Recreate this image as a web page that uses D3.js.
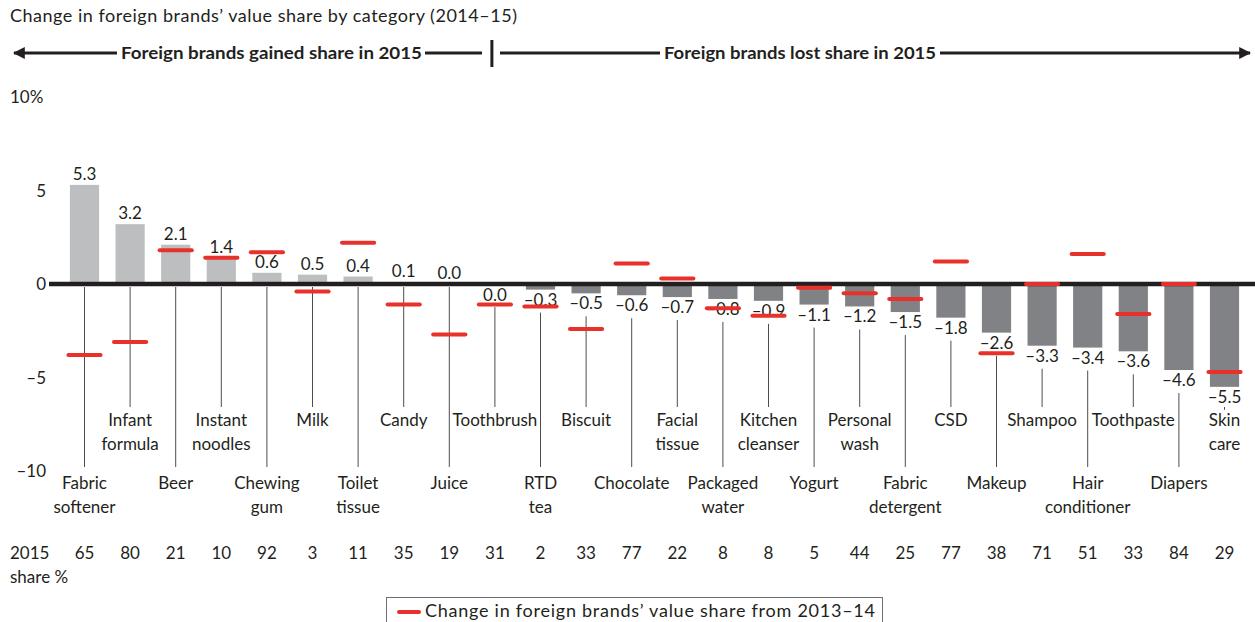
<!DOCTYPE html>
<html>
<head>
<meta charset="utf-8">
<script src="https://cdn.jsdelivr.net/npm/d3@7"></script>
<style>
  body { margin: 0; background: #fff; }
  text { font-family: Lato, "Noto Sans", sans-serif; fill: #231f20; }
</style>
</head>
<body>
<svg id="chart" width="1255" height="622"></svg>
<script>
const W = 1255, H = 622;

// data
const categories = ["Fabric softener", "Infant formula", "Beer", "Instant noodles", "Chewing gum",
  "Milk", "Toilet tissue", "Candy", "Juice", "Toothbrush", "RTD tea", "Biscuit", "Chocolate",
  "Facial tissue", "Packaged water", "Kitchen cleanser", "Yogurt", "Personal wash",
  "Fabric detergent", "CSD", "Makeup", "Shampoo", "Hair conditioner", "Toothpaste", "Diapers", "Skin care"];
const change2015 = [5.3, 3.2, 2.1, 1.4, 0.6, 0.5, 0.4, 0.1, 0.0, 0.0, -0.3, -0.5, -0.6,
  -0.7, -0.8, -0.9, -1.1, -1.2, -1.5, -1.8, -2.6, -3.3, -3.4, -3.6, -4.6, -5.5];
const change2014 = [-3.8, -3.1, 1.8, 1.4, 1.7, -0.4, 2.2, -1.1, -2.7, -1.1, -1.2, -2.4, 1.1,
  0.3, -1.3, -1.7, -0.2, -0.5, -0.8, 1.2, -3.7, 0.0, 1.6, -1.6, 0.0, -4.7];
const share2015 = [65, 80, 21, 10, 92, 3, 11, 35, 19, 31, 2, 33, 77, 22, 8, 8, 5, 44, 25, 77, 38, 71, 51, 33, 84, 29];
const gainedCount = 9; // first 9 categories gained share
const yTicks = [-10, -5, 0, 5, 10];

const svg = d3.select("#chart");
const fmt = v => (v < 0 ? "\u2013" : "") + Math.abs(v).toFixed(1);

const x = d3.scaleBand().domain(categories).range([61.7, 1247.3]).paddingInner(0.36).paddingOuter(0.18);
const y = d3.scaleLinear().domain([-10, 10]).range([471, 97]);
const bw = x.bandwidth();
const cx = d => x(d) + bw / 2;

// title
svg.append("text").attr("x", 10).attr("y", 22).attr("font-size", 18)
  .attr("textLength", 507).attr("lengthAdjust", "spacing")
  .text("Change in foreign brands\u2019 value share by category (2014\u201315)");

// header arrows
const hdr = svg.append("g");
hdr.append("defs").html(
  '<marker id="ah" viewBox="0 0 10 10" refX="9" refY="5" markerWidth="4" markerHeight="4" orient="auto-start-reverse">' +
  '<path d="M0,0 L10,5 L0,10 z" fill="#231f20"/></marker>');
const divX = cx(categories[gainedCount]) - 3;
hdr.append("line").attr("x1", 117).attr("x2", 14).attr("y1", 53).attr("y2", 53)
  .attr("stroke", "#231f20").attr("stroke-width", 3).attr("marker-end", "url(#ah)");
hdr.append("line").attr("x1", 425).attr("x2", 482).attr("y1", 53).attr("y2", 53)
  .attr("stroke", "#231f20").attr("stroke-width", 3);
hdr.append("line").attr("x1", divX).attr("x2", divX).attr("y1", 40).attr("y2", 67)
  .attr("stroke", "#231f20").attr("stroke-width", 3);
hdr.append("line").attr("x1", 500).attr("x2", 660).attr("y1", 53).attr("y2", 53)
  .attr("stroke", "#231f20").attr("stroke-width", 3);
hdr.append("line").attr("x1", 940).attr("x2", 1250).attr("y1", 53).attr("y2", 53)
  .attr("stroke", "#231f20").attr("stroke-width", 3).attr("marker-end", "url(#ah)");
hdr.append("text").attr("x", 121).attr("y", 59).attr("font-size", 17).attr("font-weight", "bold")
  .attr("textLength", 301).attr("lengthAdjust", "spacingAndGlyphs")
  .text("Foreign brands gained share in 2015");
hdr.append("text").attr("x", 664).attr("y", 59).attr("font-size", 17).attr("font-weight", "bold")
  .attr("textLength", 272).attr("lengthAdjust", "spacingAndGlyphs")
  .text("Foreign brands lost share in 2015");

// y axis labels
svg.append("g").selectAll("text").data(yTicks).join("text")
  .attr("x", d => d === 10 ? 10 : 46).attr("y", d => y(d) + 6)
  .attr("text-anchor", d => d === 10 ? "start" : "end").attr("font-size", 17)
  .text(d => d === 10 ? "10%" : (d < 0 ? "\u2013" : "") + Math.abs(d));

const rows = categories.map((c, i) => ({
  c, i, v: change2015[i], prev: change2014[i], share: share2015[i],
  below: i >= gainedCount || change2015[i] < 0
}));

// bars
svg.append("g").selectAll("rect").data(rows).join("rect")
  .attr("x", d => x(d.c)).attr("width", bw)
  .attr("y", d => y(Math.max(0, d.v))).attr("height", d => Math.abs(y(d.v) - y(0)))
  .attr("fill", d => d.v > 0 || d.i < gainedCount ? "#bcbec0" : "#808285");

// zero line
svg.append("line").attr("x1", 49).attr("x2", W).attr("y1", y(0)).attr("y2", y(0))
  .attr("stroke", "#231f20").attr("stroke-width", 4.5);

// value labels
const valBase = d => d.below ? y(Math.min(0, d.v)) + 16 : y(d.v) - 5;
svg.append("g").selectAll("text").data(rows).join("text")
  .attr("x", d => cx(d.c)).attr("y", d => valBase(d) + (d.below && d.v === 0 ? 1 : 0))
  .attr("text-anchor", "middle").attr("font-size", 17).text(d => fmt(d.v));

// leader lines and category labels
const upper = d => d.i % 2 === 1;
svg.append("g").selectAll("line").data(rows).join("line")
  .attr("x1", d => cx(d.c)).attr("x2", d => cx(d.c))
  .attr("y1", d => d.below ? valBase(d) + 7 : y(0) + 3)
  .attr("y2", d => upper(d) ? 407 : 467)
  .attr("stroke", "#4d4d4f").attr("stroke-width", 1);

const lab = svg.append("g").selectAll("text").data(rows).join("text")
  .attr("text-anchor", "middle").attr("font-size", 17);
lab.selectAll("tspan").data(d => d.c.split(" ").map(t => ({ t, d }))).join("tspan")
  .attr("x", e => cx(e.d.c)).attr("y", (e, k) => (upper(e.d) ? 426 : 489) + k * 24)
  .text(e => e.t);

// red markers: change from 2013-14
svg.append("g").selectAll("line").data(rows).join("line")
  .attr("x1", d => x(d.c) - 1.5).attr("x2", d => x(d.c) + bw + 1.5)
  .attr("y1", d => y(d.prev)).attr("y2", d => y(d.prev))
  .attr("stroke", "#e8312a").attr("stroke-width", 4).attr("stroke-linecap", "round");

// share row
svg.append("text").attr("x", 10).attr("y", 559).attr("font-size", 17).text("2015");
svg.append("text").attr("x", 10).attr("y", 583).attr("font-size", 17).text("share %");
svg.append("g").selectAll("text").data(rows).join("text")
  .attr("x", d => cx(d.c)).attr("y", 559).attr("text-anchor", "middle").attr("font-size", 17)
  .text(d => d.share);

// legend
const lg = svg.append("g");
lg.append("rect").attr("x", 386.5).attr("y", 597.5).attr("width", 496).attr("height", 40)
  .attr("fill", "none").attr("stroke", "#6d6e71").attr("stroke-width", 1);
lg.append("line").attr("x1", 399).attr("x2", 419).attr("y1", 612).attr("y2", 612)
  .attr("stroke", "#e8312a").attr("stroke-width", 4).attr("stroke-linecap", "round");
lg.append("text").attr("x", 425).attr("y", 617).attr("font-size", 18)
  .attr("textLength", 450).attr("lengthAdjust", "spacing")
  .text("Change in foreign brands\u2019 value share from 2013\u201314");
</script>
</body>
</html>
